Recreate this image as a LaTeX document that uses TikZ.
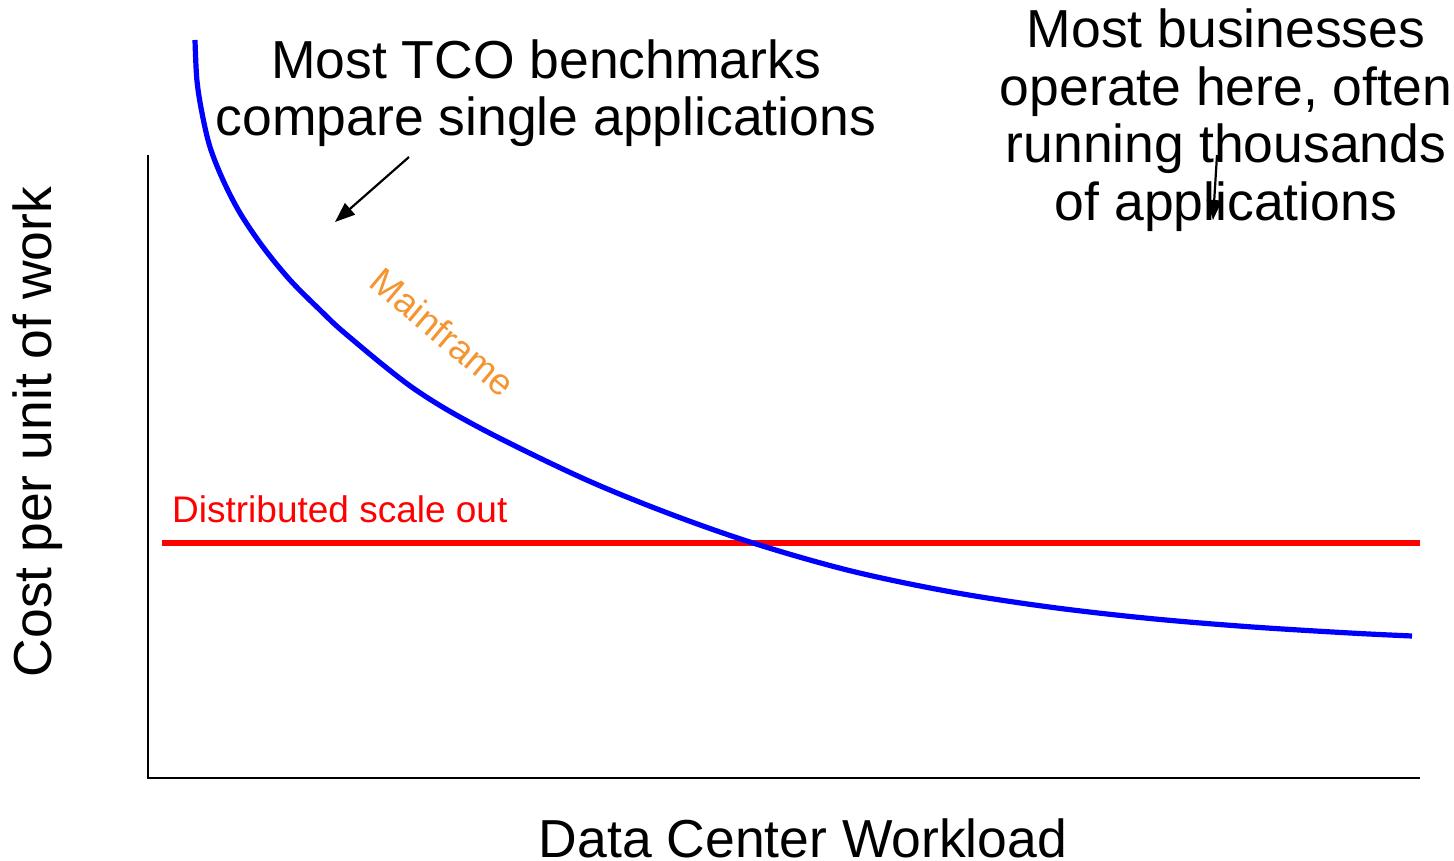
\documentclass[tikz,border=0pt]{standalone}
\usepackage{fontspec}
\setmainfont{Liberation Sans}
\usetikzlibrary{arrows.meta}
\definecolor{mforange}{RGB}{243,149,48}
\tikzset{
  bigtext/.style={font=\fontsize{53.5}{57.5}\selectfont, inner sep=0pt, align=center},
  axisline/.style={line width=2.6pt, black},
  callout/.style={line width=2.2pt, black, -{Triangle[length=20pt,width=15pt]}},
  mfcurve/.style={line width=5.2pt, blue},
  dsline/.style={line width=5.2pt, red},
}
\begin{document}
\begin{tikzpicture}[x=1pt,y=-1pt]
\useasboundingbox (0,0) rectangle (1454,861);
% axes
\coordinate (ytop) at (148,155);
\coordinate (origin) at (148,778);
\coordinate (xend) at (1420,778);
\draw[axisline] (ytop) -- (origin) -- (xend);
% distributed line
\coordinate (dsa) at (162,543);
\coordinate (dsb) at (1420,543);
\draw[dsline] (dsa) -- (dsb);
% mainframe curve
\draw[mfcurve] plot[smooth, tension=0.55] coordinates {
 (195,40) (196.9,80) (202,113) (210,147) (223,180) (240,213) (263,247)
 (290,280) (320,310) (347,335) (413,388) (480,428) (580,477) (665,512)
 (753,543) (850,570.7) (950,591.7) (1050,607.1) (1150,618.5) (1250,626.8)
 (1350,633) (1412,636)};
% labels
\node[bigtext, anchor=center] (tco) at (546,93) {Most TCO benchmarks\\compare single applications};
\node[bigtext, anchor=center] (biz) at (1226,120) {Most businesses\\operate here, often\\running thousands\\of applications};
\node[bigtext, rotate=90] (ylab) at (38,432) {Cost per unit of work};
\node[bigtext] (xlab) at (803,838) {Data Center Workload};
\node[font=\fontsize{37}{40}\selectfont, inner sep=0pt, text=red, anchor=west] (dslab) at (172,509) {Distributed scale out};
\node[font=\fontsize{37}{40}\selectfont, inner sep=0pt, text=mforange, rotate=-40] (mflab) at (443,332) {Mainframe};
% callout arrows
\coordinate (a1s) at (409,157);
\coordinate (a1e) at (335,222);
\draw[callout] (a1s) -- (a1e);
\coordinate (a2s) at (1217,155);
\coordinate (a2e) at (1213,220);
\draw[callout] (a2s) -- (a2e);
\end{tikzpicture}
\end{document}
